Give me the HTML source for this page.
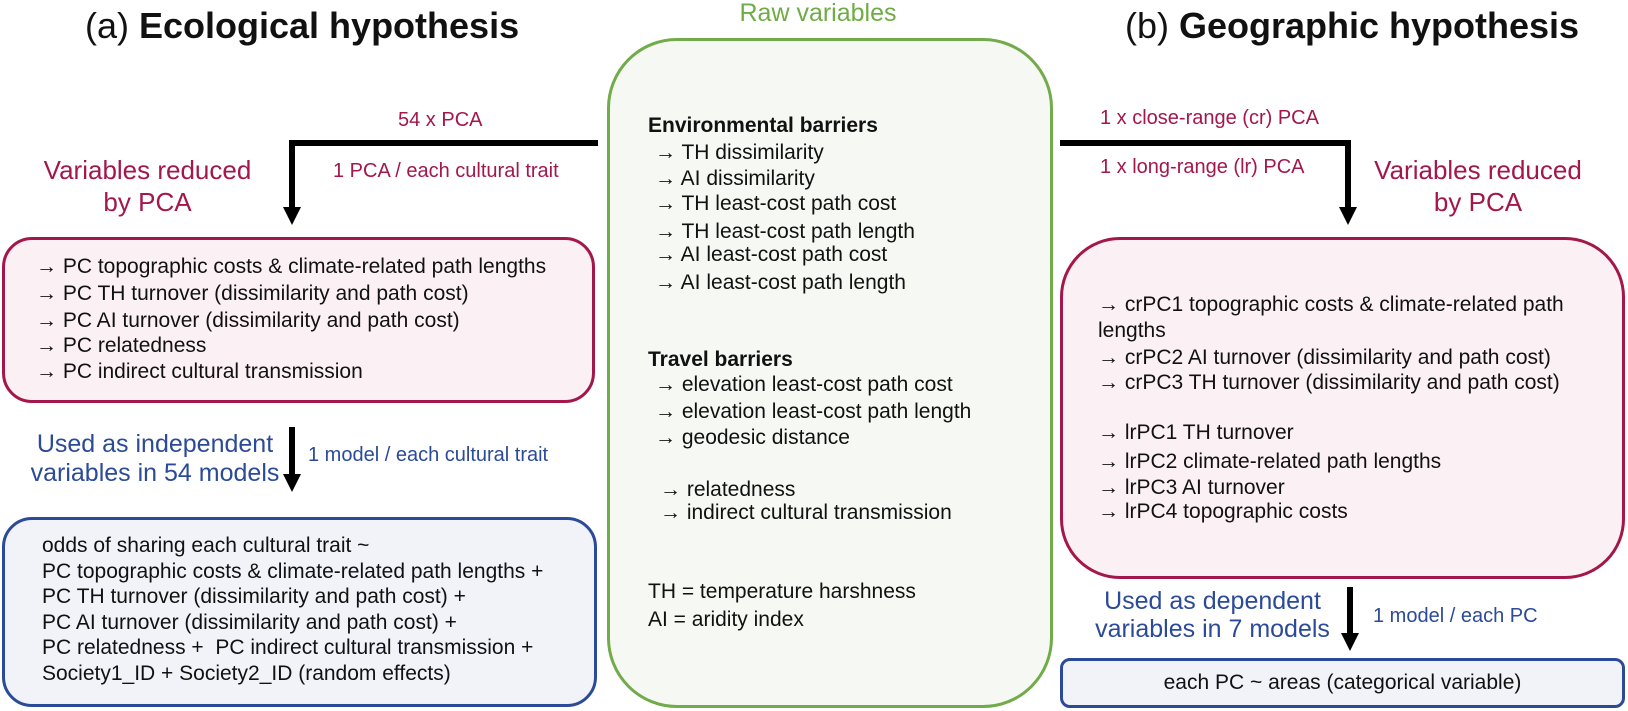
<!DOCTYPE html>
<html><head><meta charset="utf-8"><style>
body{margin:0;width:1628px;height:711px;background:#fff;position:relative;overflow:hidden;font-family:"Liberation Sans",Arial,sans-serif;color:#111}
.a{position:absolute;white-space:nowrap}
.box{position:absolute;box-sizing:border-box}
.t21{font-size:21px;line-height:26px}
.red{color:#a3174b}
.blue{color:#2b4a98}
.c{text-align:center}
</style></head><body>

<div class="a" style="left:85px;top:5px;font-size:36px;line-height:42px">(a) <b>Ecological hypothesis</b></div>
<div class="a" style="left:1125px;top:5px;font-size:36px;line-height:42px">(b) <b>Geographic hypothesis</b></div>
<div class="a" style="left:700px;top:-2px;width:236px;text-align:center;font-size:25px;line-height:30px;color:#6fac46">Raw variables</div>

<div class="box" style="left:607px;top:38px;width:446px;height:670px;border:3px solid #72ab4a;border-radius:70px;background:#f6f8f3"></div>
<div class="a t21" style="left:648px;top:113px"><b>Environmental barriers</b></div>
<div class="a t21" style="left:655px;top:140px">→ TH dissimilarity</div>
<div class="a t21" style="left:655px;top:166px">→ AI dissimilarity</div>
<div class="a t21" style="left:655px;top:191px">→ TH least-cost path cost</div>
<div class="a t21" style="left:655px;top:219px">→ TH least-cost path length</div>
<div class="a t21" style="left:655px;top:242px">→ AI least-cost path cost</div>
<div class="a t21" style="left:655px;top:270px">→ AI least-cost path length</div>
<div class="a t21" style="left:648px;top:347px"><b>Travel barriers</b></div>
<div class="a t21" style="left:655px;top:372px">→ elevation least-cost path cost</div>
<div class="a t21" style="left:655px;top:399px">→ elevation least-cost path length</div>
<div class="a t21" style="left:655px;top:425px">→ geodesic distance</div>
<div class="a t21" style="left:660px;top:477px">→ relatedness</div>
<div class="a t21" style="left:660px;top:500px">→ indirect cultural transmission</div>
<div class="a t21" style="left:648px;top:579px">TH = temperature harshness</div>
<div class="a t21" style="left:648px;top:607px">AI = aridity index</div>

<svg class="a" style="left:0;top:0" width="1628" height="711">
<g fill="#000">
<rect x="289" y="140" width="309" height="6"/>
<rect x="289" y="140" width="6" height="70"/>
<polygon points="283,207 301,207 292,225"/>
<rect x="1060" y="140" width="291" height="6"/>
<rect x="1345" y="140" width="6" height="70"/>
<polygon points="1339,207 1357,207 1348,225"/>
<rect x="289" y="427" width="6" height="50"/>
<polygon points="283,474 301,474 292,492"/>
<rect x="1347" y="587" width="6" height="48"/>
<polygon points="1341,633 1359,633 1350,651"/>
</g></svg>

<div class="a red" style="left:398px;top:108px;font-size:20px;line-height:24px">54 x PCA</div>
<div class="a red" style="left:333px;top:159px;font-size:20px;line-height:24px">1 PCA / each cultural trait</div>
<div class="a red c" style="left:20px;top:154px;width:255px;font-size:26px;line-height:32px">Variables reduced<br>by PCA</div>

<div class="box" style="left:2px;top:237px;width:593px;height:166px;border:3px solid #a3174b;border-radius:30px;background:#fbf0f3"></div>
<div class="a t21" style="left:36px;top:254px">→ PC topographic costs &amp; climate-related path lengths</div>
<div class="a t21" style="left:36px;top:281px">→ PC TH turnover (dissimilarity and path cost)</div>
<div class="a t21" style="left:36px;top:308px">→ PC AI turnover (dissimilarity and path cost)</div>
<div class="a t21" style="left:36px;top:333px">→ PC relatedness</div>
<div class="a t21" style="left:36px;top:359px">→ PC indirect cultural transmission</div>

<div class="a blue c" style="left:20px;top:430px;width:270px;font-size:25px;line-height:29px">Used as independent<br>variables in 54 models</div>
<div class="a blue" style="left:308px;top:443px;font-size:20px;line-height:24px">1 model / each cultural trait</div>

<div class="box" style="left:2px;top:517px;width:595px;height:190px;border:3px solid #2b4a98;border-radius:30px;background:#f1f3f9"></div>
<div class="a t21" style="left:42px;top:533px;line-height:25.6px">odds of sharing each cultural trait ~<br>PC topographic costs &amp; climate-related path lengths +<br>PC TH turnover (dissimilarity and path cost) +<br>PC AI turnover (dissimilarity and path cost) +<br>PC relatedness +&nbsp; PC indirect cultural transmission +<br>Society1_ID + Society2_ID (random effects)</div>

<div class="a red" style="left:1100px;top:106px;font-size:20px;line-height:24px">1 x close-range (cr) PCA</div>
<div class="a red" style="left:1100px;top:155px;font-size:20px;line-height:24px">1 x long-range (lr) PCA</div>
<div class="a red c" style="left:1360px;top:154px;width:236px;font-size:26px;line-height:32px">Variables reduced<br>by PCA</div>

<div class="box" style="left:1060px;top:237px;width:565px;height:342px;border:3px solid #a3174b;border-radius:60px;background:#fbf0f3"></div>
<div class="a t21" style="left:1098px;top:292px;white-space:normal;width:500px">→ crPC1 topographic costs &amp; climate-related path lengths</div>
<div class="a t21" style="left:1098px;top:345px">→ crPC2 AI turnover (dissimilarity and path cost)</div>
<div class="a t21" style="left:1098px;top:370px">→ crPC3 TH turnover (dissimilarity and path cost)</div>
<div class="a t21" style="left:1098px;top:420px">→ lrPC1 TH turnover</div>
<div class="a t21" style="left:1098px;top:449px">→ lrPC2 climate-related path lengths</div>
<div class="a t21" style="left:1098px;top:475px">→ lrPC3 AI turnover</div>
<div class="a t21" style="left:1098px;top:499px">→ lrPC4 topographic costs</div>

<div class="a blue c" style="left:1080px;top:587px;width:265px;font-size:25px;line-height:28px">Used as dependent<br>variables in 7 models</div>
<div class="a blue" style="left:1373px;top:604px;font-size:20px;line-height:24px">1 model / each PC</div>

<div class="box" style="left:1060px;top:658px;width:565px;height:50px;border:3px solid #2b4a98;border-radius:10px;background:#f1f3f9"></div>
<div class="a t21 c" style="left:1060px;top:670px;width:565px">each PC ~ areas (categorical variable)</div>

</body></html>
